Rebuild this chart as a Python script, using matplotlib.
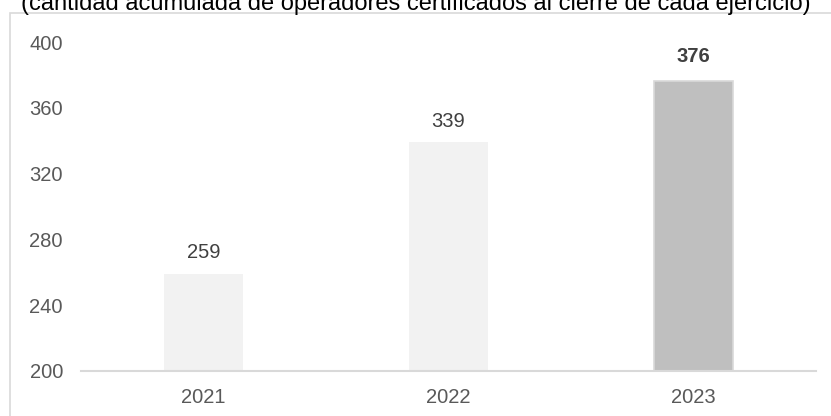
import matplotlib
matplotlib.use('Agg')
import matplotlib.pyplot as plt
from matplotlib.patches import Rectangle

plt.rcParams['font.family'] = ['Liberation Sans', 'DejaVu Sans']

# datos
years = ['2021', '2022', '2023']
operadores = [259, 339, 376]
bar_colors = ['#f2f2f2', '#f2f2f2', '#bfbfbf']
y_ticks = [200, 240, 280, 320, 360, 400]
subtitulo = '(cantidad acumulada de operadores certificados al cierre de cada ejercicio)'

fig = plt.figure(figsize=(8.31, 4.16), dpi=100)
ax = fig.add_axes([81 / 831, 1 - 371 / 416, 735 / 831, 329 / 416])

# marco exterior (recortado)
fig.patches.append(Rectangle((0.012, -0.2), 1.2, 0.2 + 0.969, transform=fig.transFigure,
                             fill=False, edgecolor='#d9d9d9', linewidth=1.2))

x = range(len(years))
bars = ax.bar(x, operadores, width=0.32, color=bar_colors, zorder=2)
bars[2].set_edgecolor('#d9d9d9')
bars[2].set_linewidth(1.2)

ax.set_xlim(-0.5, 2.5)
ax.set_ylim(200, 400)
ax.set_yticks(y_ticks)
ax.set_xticks(list(x))
ax.set_xticklabels(years)
ax.tick_params(axis='both', length=0, labelsize=14.5, colors='#595959')
ax.tick_params(axis='y', pad=13)
ax.tick_params(axis='x', pad=12)

for s in ['top', 'right', 'left']:
    ax.spines[s].set_visible(False)
ax.spines['bottom'].set_color('#d9d9d9')
ax.spines['bottom'].set_linewidth(1.5)

for i, v in enumerate(operadores):
    if i == 2:
        ax.annotate(str(v), (i, v), xytext=(0, 11), textcoords='offset points',
                    ha='center', va='bottom', fontsize=14.5, fontweight='bold', color='#404040')
    else:
        ax.annotate(str(v), (i, v), xytext=(0, 8.5), textcoords='offset points',
                    ha='center', va='bottom', fontsize=14.5, color='#404040')

fig.text(0.5, 1 - 10 / 416, subtitulo, ha='center', va='baseline', fontsize=17, color='#000000')

fig.savefig('out.png', dpi=100)
